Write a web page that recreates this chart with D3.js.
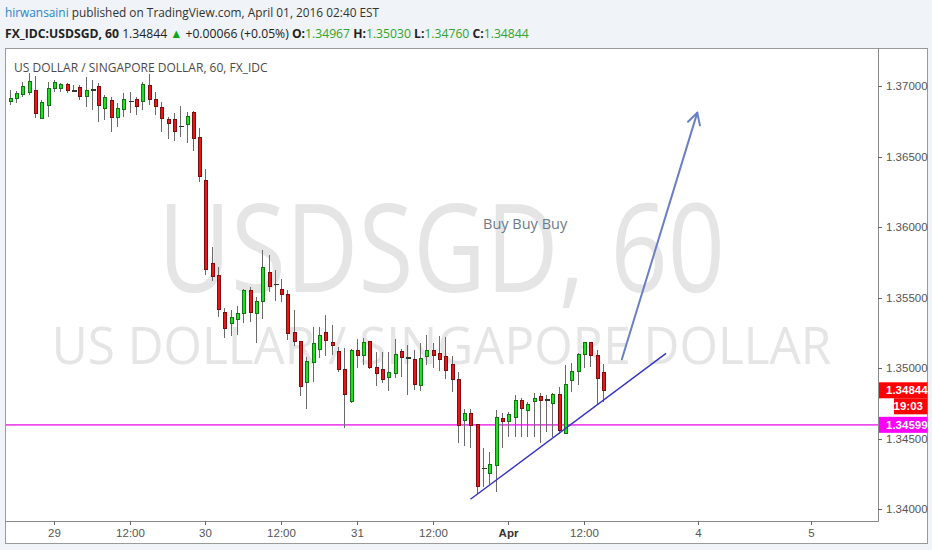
<!DOCTYPE html>
<html><head><meta charset="utf-8">
<script src="https://cdn.jsdelivr.net/npm/d3@7"></script>
<style>html,body{margin:0;padding:0;background:#f0f3f7;} svg{display:block}</style>
</head><body><svg id="c" width="932" height="550"></svg>
<script>
// ---- data ----
const firstHour = -7; // hours relative to Mar 29 00:00
const opens = [1.36891,1.3691,1.36945,1.36955,1.36967,1.36773,1.36867,1.36986,1.36986,1.37014,
1.36969,1.36993,1.36926,1.36974,1.37002,1.36844,1.36898,1.36777,1.36837,1.36891,
1.36903,1.36891,1.37004,1.36903,1.36851,1.36766,1.36766,1.36715,1.36726,1.36813,
1.36636,1.36331,1.3574,1.35657,1.35395,1.35315,1.35343,1.35386,1.35549,1.35391,
1.35473,1.35678,1.35595,1.35561,1.35525,1.35254,1.35189,1.34898,1.3504,1.35135,
1.35256,1.35182,1.35118,1.34994,1.34764,1.35125,1.35088,1.35189,1.35008,1.34994,
1.34937,1.34965,1.35118,1.35079,1.35059,1.34875,1.35083,1.35123,1.35102,1.35083,
1.35024,1.34918,1.34629,1.34677,1.34599,1.34289,1.34251,1.34308,1.34646,1.34622,
1.34653,1.34771,1.347,1.34764,1.34799,1.34778,1.34747,1.34811,1.3454,1.34913,
1.34977,1.35095,1.35182,1.35088,1.34967];
const highs = [1.36974,1.36969,1.37033,1.37096,1.37073,1.36903,1.37033,1.37045,1.37026,1.37021,
1.37009,1.37009,1.37068,1.37045,1.37026,1.36938,1.36926,1.36879,1.36955,1.36962,
1.36926,1.37033,1.37087,1.36962,1.36891,1.36784,1.36813,1.3686,1.3682,1.36827,
1.36702,1.36412,1.35863,1.35721,1.35426,1.35414,1.35442,1.35561,1.35579,1.35508,
1.35839,1.35804,1.35698,1.35632,1.35556,1.35412,1.35193,1.35083,1.35296,1.35296,
1.35379,1.35308,1.35154,1.35142,1.35135,1.35206,1.35213,1.35193,1.35118,1.35118,
1.35118,1.35206,1.35135,1.35166,1.3513,1.35178,1.35237,1.35178,1.3523,1.35225,
1.35088,1.34974,1.3471,1.3471,1.34599,1.34433,1.34409,1.34705,1.34682,1.34693,
1.34811,1.34788,1.34764,1.34823,1.34827,1.34811,1.34823,1.34866,1.35024,1.35036,
1.35107,1.35185,1.35185,1.3513,1.3503];
const lows = [1.36867,1.36879,1.36926,1.36938,1.36773,1.3677,1.36784,1.36962,1.36962,1.3695,
1.36962,1.36903,1.36855,1.36832,1.36749,1.3676,1.36678,1.36709,1.36784,1.36813,
1.36797,1.36832,1.36867,1.36797,1.36678,1.36624,1.36614,1.36643,1.366,1.36543,
1.36324,1.35662,1.35622,1.35366,1.35213,1.3523,1.35237,1.3532,1.35331,1.35178,
1.35348,1.35544,1.3548,1.35473,1.35201,1.35159,1.34804,1.3471,1.34906,1.35072,
1.35088,1.35095,1.34977,1.34575,1.34755,1.35001,1.35024,1.34996,1.34875,1.34894,
1.34842,1.3493,1.34941,1.34811,1.34847,1.34842,1.35024,1.35001,1.34984,1.34923,
1.34835,1.34471,1.3445,1.34433,1.34109,1.34161,1.3418,1.34126,1.34433,1.34511,
1.34511,1.34511,1.34511,1.34511,1.34469,1.34551,1.34516,1.34535,1.34535,1.34835,
1.34882,1.35001,1.35008,1.34747,1.3476];
const closes = [1.36915,1.3695,1.36997,1.37033,1.36809,1.36884,1.36986,1.37028,1.37014,1.36969,
1.36965,1.36926,1.36969,1.36979,1.36862,1.36922,1.36777,1.36844,1.36903,1.36898,
1.36855,1.37014,1.36903,1.36855,1.36773,1.36733,1.36678,1.36721,1.36789,1.36631,
1.3636,1.35703,1.3565,1.35414,1.35284,1.35362,1.35386,1.35549,1.35395,1.35473,
1.35717,1.35579,1.356,1.3552,1.35249,1.35189,1.34868,1.35047,1.35178,1.3523,
1.35196,1.35159,1.34989,1.34811,1.35125,1.35088,1.35182,1.35008,1.3496,1.34918,
1.34969,1.35095,1.35079,1.35069,1.34882,1.35072,1.35123,1.35088,1.35064,1.34984,
1.34918,1.34592,1.34677,1.34592,1.34161,1.34294,1.34315,1.34653,1.34622,1.34669,
1.34771,1.34717,1.3474,1.34788,1.34771,1.34773,1.34811,1.34558,1.34882,1.34977,
1.35095,1.35182,1.35088,1.3493,1.34844];

const timeTicks = [0, 12, 24, 36, 48, 60, 72, 84, 102, 120];
const timeTickLabels = ["29", "12:00", "30", "12:00", "31", "12:00", "Apr", "12:00", "4", "5"];
const boldTimeLabels = ["Apr"];
const priceTicks = [1.34, 1.345, 1.35, 1.355, 1.36, 1.365, 1.37];
const lastPrice = 1.34844;
const lastLow = 1.34760;
const alertPrice = 1.34599;
const changeText = "+0.00066 (+0.05%)";
const countdown = "19:03";
const trendLine = [[66.0, 1.34071], [97.0, 1.35106]];
const arrowLine = [[90.0, 1.35064], [101.95, 1.36813]];
const noteText = "Buy Buy Buy";
const notePos = [68.0, 1.36023];

const headerUser = "hirwansaini";
const headerRest = " published on TradingView.com, April 01, 2016 02:40 EST";
const symbolTitle = "US DOLLAR / SINGAPORE DOLLAR, 60, FX_IDC";
const wmBig = "USDSGD, 60";
const wmSmall = "US DOLLAR / SINGAPORE DOLLAR";

// ---- layout ----
const svg = d3.select("#c");
const L = 5, T = 48, PR = 878, R = 927, PB = 521, B = 543;
const x = d3.scaleLinear().domain([0, 72]).range([54, 508.3]);
const y = d3.scaleLinear().domain([1.34, 1.37]).range([509.3, 86.3]);
const font = "'Open Sans', 'Liberation Sans', Arial, sans-serif";
const axFont = "'Liberation Sans', Arial, sans-serif";
const f5 = d3.format(".5f");

// horizontal fit by scaling around the text's own anchor (keeps glyph boxes consistent)
function fitWidth(sel, w, anchor) {
  const bb = sel.node().getBBox();
  const k = w / bb.width;
  const ax = anchor === "middle" ? bb.x + bb.width / 2 : bb.x;
  sel.attr("transform", `translate(${ax},0) scale(${k},1) translate(${-ax},0)`);
}

// header
const h1 = svg.append("text").attr("x", 5).attr("y", 17).attr("font-family", font).attr("font-size", 13)
  .attr("fill", "#333");
h1.append("tspan").attr("fill", "#1f86cc").text(headerUser);
h1.append("tspan").text(headerRest);
fitWidth(h1, 375);

const h2 = svg.append("text").attr("x", 5).attr("y", 38).attr("font-family", font).attr("font-size", 13)
  .attr("fill", "#222");
const green = "#2ea52e";
const h2parts = [
  ["FX_IDC:USDSGD, 60", "#222", 700],
  ["  " + f5(lastPrice) + " ", "#222", 400],
  ["\u25B2", "#13a813", 400],
  [" " + changeText + " ", "#222", 400],
  ["O:", "#222", 700], [f5(opens[opens.length-1]), green, 400],
  [" H:", "#222", 700], [f5(highs[highs.length-1]), green, 400],
  [" L:", "#222", 700], [f5(lastLow), green, 400],
  [" C:", "#222", 700], [f5(closes[closes.length-1]), green, 400]
];
h2parts.forEach(p => h2.append("tspan").attr("fill", p[1]).attr("font-weight", p[2]).text(p[0]));
fitWidth(h2, 525);

// chart frame
svg.append("rect").attr("x", L + 0.5).attr("y", T + 0.5).attr("width", R - L).attr("height", B - T)
  .attr("fill", "#fff").attr("stroke", "#9a9a9a");
svg.append("line").attr("x1", PR + 0.5).attr("x2", PR + 0.5).attr("y1", T).attr("y2", PB + 0.5).attr("stroke", "#8a8a8a");
svg.append("line").attr("x1", L).attr("x2", PR + 0.5).attr("y1", PB + 0.5).attr("y2", PB + 0.5).attr("stroke", "#8a8a8a");

// clip
svg.append("clipPath").attr("id", "plot").append("rect").attr("x", L + 1).attr("y", T + 1)
  .attr("width", PR - L - 1).attr("height", PB - T - 1);
const g = svg.append("g").attr("clip-path", "url(#plot)");

// watermark
const cxPlot = (L + PR) / 2;
const wm1 = g.append("text").attr("x", cxPlot).attr("y", 292).attr("text-anchor", "middle")
  .attr("font-family", font).attr("font-size", 122).attr("fill", "#e5e5e5").text(wmBig);
fitWidth(wm1, 567, "middle");
const wm2 = g.append("text").attr("x", cxPlot).attr("y", 364).attr("text-anchor", "middle")
  .attr("font-family", font).attr("font-size", 51).attr("fill", "#e5e5e5").text(wmSmall);
fitWidth(wm2, 780, "middle");

// symbol title
const st = svg.append("text").attr("x", 14).attr("y", 72).attr("font-family", font).attr("font-size", 12.5)
  .attr("fill", "#4a4a4a").text(symbolTitle);
fitWidth(st, 254);

// alert line
g.append("line").attr("x1", L).attr("x2", PR).attr("y1", y(alertPrice)).attr("y2", y(alertPrice))
  .attr("stroke", "#ee4cee").attr("stroke-width", 1.6);

// candles
const candles = opens.map((o, i) => ({ t: firstHour + i, o, hi: highs[i], lo: lows[i], c: closes[i] }));
const cg = g.append("g").attr("shape-rendering", "crispEdges");
candles.forEach(d => {
  const cx = Math.round(x(d.t));
  cg.append("line").attr("x1", cx + 0.5).attr("x2", cx + 0.5).attr("y1", y(d.hi)).attr("y2", y(d.lo))
    .attr("stroke", "#6a6a6a").attr("stroke-width", 1);
  const up = d.c >= d.o;
  const y0 = y(Math.max(d.o, d.c)), y1 = y(Math.min(d.o, d.c));
  if (y1 - y0 < 1.5) {
    cg.append("rect").attr("x", cx - 1.5).attr("y", (y0 + y1) / 2 - 0.5).attr("width", 5).attr("height", 1.5)
      .attr("fill", "#2b3a2b");
  } else {
    cg.append("rect").attr("x", cx - 1).attr("y", y0).attr("width", 3).attr("height", y1 - y0)
      .attr("fill", up ? "#1fe01f" : "#e81616").attr("stroke", up ? "#127312" : "#7e0c0c").attr("stroke-width", 1);
  }
});

// trend line
g.append("line").attr("x1", x(trendLine[0][0])).attr("y1", y(trendLine[0][1]))
  .attr("x2", x(trendLine[1][0])).attr("y2", y(trendLine[1][1]))
  .attr("stroke", "#3434c8").attr("stroke-width", 1.4);

// arrow
const ax1 = x(arrowLine[0][0]), ay1 = y(arrowLine[0][1]), ax2 = x(arrowLine[1][0]), ay2 = y(arrowLine[1][1]);
const arrowColor = "#6a7fc6";
g.append("line").attr("x1", ax1).attr("y1", ay1).attr("x2", ax2).attr("y2", ay2)
  .attr("stroke", arrowColor).attr("stroke-width", 2).attr("stroke-linecap", "round");
const ang = Math.atan2(ay1 - ay2, ax1 - ax2), spread = 0.5, len = 13;
g.append("path").attr("d",
  `M${ax2 + len * Math.cos(ang + spread)},${ay2 + len * Math.sin(ang + spread)}L${ax2},${ay2}L${ax2 + len * Math.cos(ang - spread)},${ay2 + len * Math.sin(ang - spread)}`)
  .attr("fill", "none").attr("stroke", arrowColor).attr("stroke-width", 2).attr("stroke-linecap", "round").attr("stroke-linejoin", "round");

// note
g.append("text").attr("x", x(notePos[0])).attr("y", y(notePos[1])).attr("dy", "0.35em")
  .attr("font-family", font).attr("font-size", 14.5).attr("fill", "#6b7a8a").text(noteText);

// price axis
const pa = svg.append("g");
priceTicks.forEach(p => {
  pa.append("line").attr("x1", PR).attr("x2", PR + 4).attr("y1", Math.round(y(p)) + 0.5).attr("y2", Math.round(y(p)) + 0.5).attr("stroke", "#666");
  pa.append("text").attr("x", PR + 8).attr("y", y(p)).attr("dy", "0.35em").attr("font-family", axFont)
    .attr("font-size", 11.5).attr("fill", "#555").text(f5(p));
});
// last price label + countdown
const ly = y(lastPrice);
pa.append("rect").attr("x", PR + 1).attr("y", ly - 8).attr("width", R - PR - 0.5).attr("height", 16).attr("fill", "#ff0000");
pa.append("text").attr("x", PR + 8).attr("y", ly).attr("dy", "0.35em").attr("font-family", axFont).attr("font-weight", 700)
  .attr("font-size", 11.5).attr("fill", "#fff").text(f5(lastPrice));
pa.append("rect").attr("x", PR + 16).attr("y", ly + 8).attr("width", R - PR - 15.5).attr("height", 16).attr("fill", "#ff0000");
pa.append("text").attr("x", R - 4).attr("y", ly + 16).attr("dy", "0.35em").attr("text-anchor", "end").attr("font-family", axFont).attr("font-weight", 700)
  .attr("font-size", 11.5).attr("fill", "#fff").text(countdown);
// alert label
const my = y(alertPrice);
pa.append("rect").attr("x", PR + 1).attr("y", my - 8).attr("width", R - PR - 0.5).attr("height", 16).attr("fill", "#ff00ff");
pa.append("text").attr("x", PR + 8).attr("y", my).attr("dy", "0.35em").attr("font-family", axFont).attr("font-weight", 700)
  .attr("font-size", 11.5).attr("fill", "#fff").text(f5(alertPrice));

// time axis
const ta = svg.append("g");
timeTicks.forEach((t, i) => {
  const tx = Math.round(x(t)) + 0.5;
  ta.append("line").attr("x1", tx).attr("x2", tx).attr("y1", PB).attr("y2", PB + 4).attr("stroke", "#666");
  const lab = timeTickLabels[i];
  ta.append("text").attr("x", tx).attr("y", 537).attr("text-anchor", "middle").attr("font-family", axFont)
    .attr("font-size", 11.5).attr("fill", boldTimeLabels.includes(lab) ? "#333" : "#555")
    .attr("font-weight", boldTimeLabels.includes(lab) ? 700 : 400).text(lab);
});
</script></body></html>
